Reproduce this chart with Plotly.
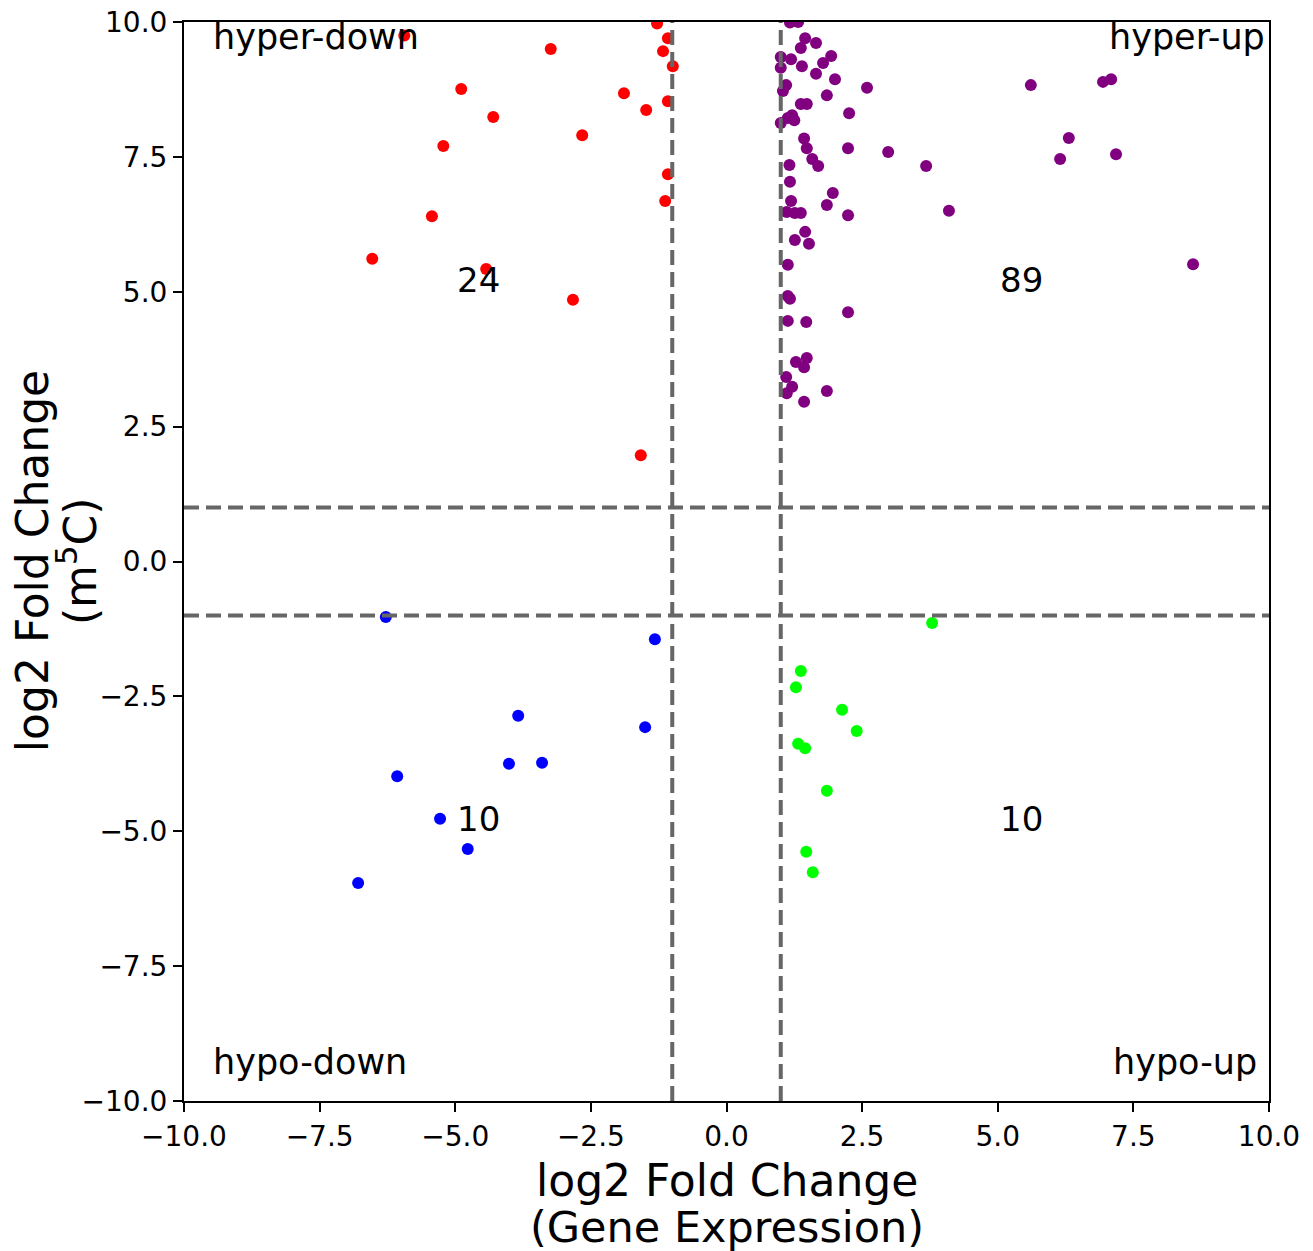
import plotly.graph_objects as go

# hyper-down (red)
red_x = [-5.94, -3.24, -1.28, -1.08, -1.17, -0.99, -4.89, -1.89, -1.48, -1.08,
         -4.30, -2.66, -5.22, -1.08, -1.13, -5.43, -6.53, -4.43, -2.83, -1.58]
red_y = [9.75, 9.50, 9.97, 9.70, 9.46, 9.18, 8.76, 8.68, 8.37, 8.53,
         8.24, 7.90, 7.70, 7.18, 6.68, 6.40, 5.61, 5.42, 4.85, 1.97]

# hyper-up (purple)
purple_x = [1.17, 1.32, 1.45, 1.65, 1.37, 1.00, 1.19, 1.93, 1.78, 1.00,
            1.39, 1.65, 2.00, 2.59, 1.10, 1.04, 1.85, 1.37, 1.48, 2.26,
            1.21, 1.13, 1.00, 1.25, 1.43, 1.48, 2.24, 1.58, 1.69, 1.16,
            1.17, 1.96, 1.19, 1.85, 1.11, 1.26, 1.37, 2.24, 1.45, 1.26,
            1.52, 1.13, 1.13, 1.17, 2.24, 1.13, 1.47, 1.28, 1.48, 1.43,
            1.10, 1.21, 1.11, 1.85, 1.43, 2.98, 3.68, 4.10, 5.61, 6.94,
            7.09, 6.31, 6.15, 7.18, 8.60]
purple_y = [9.99, 10.0, 9.70, 9.61, 9.52, 9.35, 9.31, 9.37, 9.24, 9.15,
            9.18, 9.04, 8.94, 8.78, 8.83, 8.72, 8.64, 8.48, 8.48, 8.31,
            8.27, 8.22, 8.13, 8.18, 7.84, 7.66, 7.66, 7.46, 7.33, 7.35,
            7.04, 6.83, 6.68, 6.61, 6.48, 6.46, 6.46, 6.42, 6.11, 5.96,
            5.89, 5.50, 4.92, 4.87, 4.62, 4.46, 4.44, 3.70, 3.77, 3.60,
            3.42, 3.24, 3.12, 3.16, 2.96, 7.59, 7.33, 6.50, 8.83, 8.89,
            8.94, 7.85, 7.46, 7.55, 5.51]

# hypo-down (blue)
blue_x = [-6.28, -1.32, -3.84, -1.50, -4.01, -3.40, -6.07, -5.28, -4.77, -6.79]
blue_y = [-1.03, -1.44, -2.86, -3.07, -3.75, -3.73, -3.98, -4.77, -5.33, -5.96]

# hypo-up (green)
green_x = [3.79, 1.37, 1.28, 2.13, 2.40, 1.32, 1.45, 1.85, 1.47, 1.59]
green_y = [-1.14, -2.03, -2.33, -2.75, -3.14, -3.38, -3.46, -4.25, -5.38, -5.76]

counts = {"hyper-down": 24, "hyper-up": 89, "hypo-down": 10, "hypo-up": 10}
tick_vals = [-10, -7.5, -5, -2.5, 0, 2.5, 5, 7.5, 10]
thresholds = [-1, 1]

FONT = "DejaVu Sans"
fig = go.Figure()
for xs, ys, col in [(red_x, red_y, "#ff0000"), (purple_x, purple_y, "#800080"),
                    (blue_x, blue_y, "#0000ff"), (green_x, green_y, "#00ff00")]:
    fig.add_trace(go.Scatter(x=xs, y=ys, mode="markers",
                             marker=dict(color=col, size=12, line=dict(width=0)),
                             showlegend=False, cliponaxis=True))

for t in thresholds:
    fig.add_shape(type="line", xref="x", yref="paper", x0=t, x1=t, y0=0, y1=1,
                  line=dict(color="#666666", width=4, dash="15px,7px"), layer="above")
    fig.add_shape(type="line", xref="paper", yref="y", x0=0, x1=1, y0=t, y1=t,
                  line=dict(color="#666666", width=4, dash="15px,7px"), layer="above")

ann = []
corner = [("hyper-down", -9.5, 9.5, "left"), ("hyper-up", 9.96, 9.5, "right"),
          ("hypo-down", -9.5, -9.5, "left"), ("hypo-up", 7.08, -9.5, "left")]
for txt, x, y, xa in corner:
    ann.append(dict(x=x, y=y, xref="x", yref="y", text=txt, showarrow=False,
                    xanchor=xa, yanchor="bottom", yshift=-10,
                    font=dict(family=FONT, size=35, color="black")))
num_pos = [("hyper-down", -5, 5), ("hyper-up", 5, 5), ("hypo-down", -5, -5), ("hypo-up", 5, -5)]
for key, x, y in num_pos:
    ann.append(dict(x=x, y=y, xref="x", yref="y", text=str(counts[key]), showarrow=False,
                    xanchor="left", yanchor="bottom", yshift=-10,
                    font=dict(family=FONT, size=34, color="black")))

# axis titles
ann.append(dict(x=0.5, y=-0.0740, xref="paper", yref="paper", text="log2 Fold Change",
                showarrow=False, xanchor="center", yanchor="middle",
                font=dict(family=FONT, size=44, color="black")))
ann.append(dict(x=0.5, y=-0.1170, xref="paper", yref="paper", text="(Gene Expression)",
                showarrow=False, xanchor="center", yanchor="middle",
                font=dict(family=FONT, size=43, color="black")))
ann.append(dict(x=-0.1395, y=0.5, xref="paper", yref="paper", text="log2 Fold Change",
                showarrow=False, xanchor="center", yanchor="middle", textangle=-90,
                font=dict(family=FONT, size=44, color="black")))
ann.append(dict(x=-0.0990, y=0.5, xref="paper", yref="paper", text="(m<sup>5</sup>C)",
                showarrow=False, xanchor="center", yanchor="middle", textangle=-90,
                font=dict(family=FONT, size=44, color="black")))

axis_common = dict(range=[-10, 10], tickvals=tick_vals, tickformat=".1f",
                   showgrid=False, zeroline=False, showline=True, mirror=True,
                   linecolor="black", linewidth=2, ticks="outside", ticklen=9,
                   tickwidth=2, tickcolor="black", automargin=False,
                   tickfont=dict(family=FONT, size=28, color="black"))
fig.update_layout(
    width=1313, height=1251,
    margin=dict(l=184, r=44, t=22, b=150, autoexpand=False),
    plot_bgcolor="white", paper_bgcolor="white",
    xaxis=dict(**axis_common),
    yaxis=dict(**axis_common),
    annotations=ann,
    font=dict(family=FONT),
)
fig.write_html("out.html")
